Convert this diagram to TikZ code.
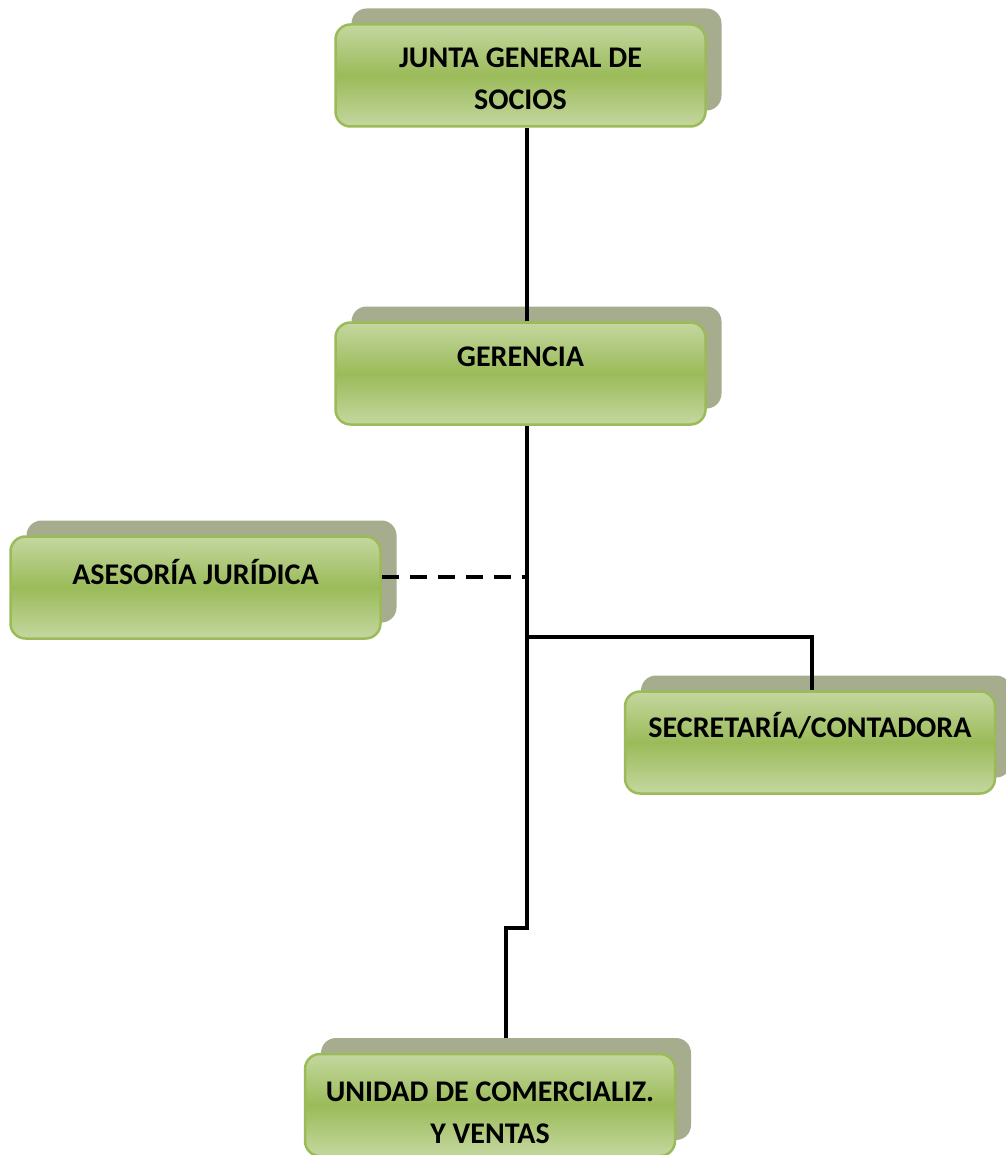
\documentclass[tikz,border=0pt]{standalone}
\usepackage{fontspec}
\setmainfont{Carlito}
\usetikzlibrary{calc}
\definecolor{boxmid}{HTML}{9BBB59}
\definecolor{boxlight}{HTML}{C4D79F}
\definecolor{shadowcol}{HTML}{A6AD8F}
\pgfdeclarelayer{shadowlayer}
\pgfdeclarelayer{linklayer}
\pgfsetlayers{shadowlayer,linklayer,main}
\tikzset{
  unitbox/.style={rounded corners=15pt, minimum width=370pt, minimum height=102pt, inner sep=0pt},
  orgbox/.style={unitbox, draw=boxmid, line width=2.5pt,
    top color=boxlight, bottom color=boxlight, middle color=boxmid},
  orgshadow/.style={unitbox, fill=shadowcol},
  orgtext/.style={font=\bfseries\fontsize{30}{42}\selectfont, align=center, inner sep=0pt},
  link/.style={line width=3.5pt, black},
}
\begin{document}
\begin{tikzpicture}[x=1pt,y=-1pt]
\useasboundingbox (0,0) rectangle (1005,1155);
\clip (0,0) rectangle (1005,1155);

% offset shadows behind each box
\begin{pgfonlayer}{shadowlayer}
  \fill[white] (0,0) rectangle (1005,1155);
  \node[orgshadow] (junta-s) at (536.5,59.5) {};
  \node[orgshadow] (ger-s)   at (536.5,357.5) {};
  \node[orgshadow] (ase-s)   at (211.5,571.5) {};
  \node[orgshadow] (sec-s)   at (826,726.5) {};
  \node[orgshadow] (uni-s)   at (506,1089) {};
\end{pgfonlayer}

% boxes
\node[orgbox] (junta) at (520.5,75.5) {};
\node[orgbox] (ger)   at (520.5,373.5) {};
\node[orgbox] (ase)   at (195.5,587.5) {};
\node[orgbox] (sec)   at (810,742.5) {};
\node[orgbox] (uni)   at (490,1105) {};

% labels
\node[orgtext] (junta-t) at (520.5,79) {JUNTA GENERAL DE\\SOCIOS};
\node[orgtext] (ger-t)   at (520.5,357) {GERENCIA};
\node[orgtext] (ase-t)   at (195.5,572) {ASESORÍA JURÍDICA};
\node[orgtext] (sec-t)   at (810,726) {SECRETARÍA/CONTADORA};
\node[orgtext] (uni-t)   at (490,1112.5) {UNIDAD DE COMERCIALIZ.\\Y VENTAS};

% helper coordinates for the connector routing
\coordinate (spine)  at (527,0);
\coordinate (dashy)  at (0,577);
\coordinate (branch) at (812,637);
\coordinate (jog)    at (506,928);

% connectors
\begin{pgfonlayer}{linklayer}
  \draw[link] (junta.south -| spine) -- (ger.north -| spine);
  \draw[link] (ger.south -| spine) -- (spine |- jog) -- (jog) -- (jog |- uni-s.north);
  \draw[link, dash pattern=on 17pt off 11pt] (ase.east |- dashy) -- (spine |- dashy);
  \draw[link] (spine |- branch) -- (branch) -- (sec.north -| branch);
\end{pgfonlayer}
\end{tikzpicture}
\end{document}
